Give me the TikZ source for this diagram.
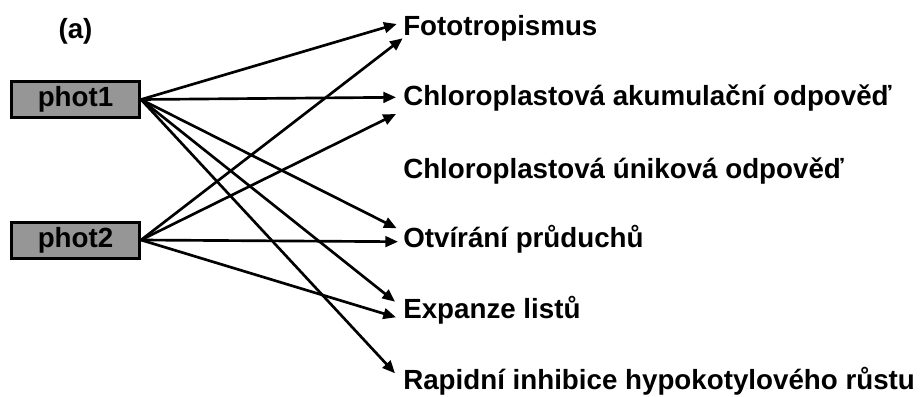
\documentclass[tikz,border=0pt]{standalone}
\usepackage{fontspec}
\setmainfont{Liberation Sans}
\usetikzlibrary{arrows.meta, positioning}
\definecolor{BoxGray}{HTML}{969696}

\tikzset{
  bigfont/.style={font=\fontsize{20.8pt}{24pt}\selectfont\bfseries},
  photbox/.style={bigfont, draw=black, line width=2.25pt, fill=BoxGray,
    minimum width=96pt, minimum height=27pt, inner sep=0pt},
  resp/.style={bigfont, anchor=base west, inner sep=0pt},
  link/.style={-{Triangle[length=9.5pt,width=8pt]}, line width=2pt},
}

\begin{document}
\begin{tikzpicture}[x=0.75pt, y=-0.75pt]
\useasboundingbox (0,0) rectangle (920,396);

% receptors
\node[bigfont, inner sep=0pt] (tag) at (75.5,31) {(a)};
\node[photbox] (phot1) at (75.5,99.5) {phot1};
\node[photbox] (phot2) at (75.5,240) {phot2};

% responses
\node[resp] (foto) at (403,35) {Fototropismus};
\node[resp] (akum) at (403,105) {Chloroplastová akumulační odpověď};
\node[resp] (unik) at (403,178) {Chloroplastová úniková odpověď};
\node[resp] (otv) at (403,247) {Otvírání průduchů};
\node[resp] (exp) at (403,318) {Expanze listů};
\node[resp] (rap) at (403,389) {Rapidní inhibice hypokotylového růstu};

% arrow ends
\coordinate (foto-1) at (396.7,24);
\coordinate (foto-2) at (402.7,38.3);
\coordinate (akum-1) at (396,97.3);
\coordinate (akum-2) at (396,114);
\coordinate (otv-1) at (396.7,228.3);
\coordinate (otv-2) at (398,241.7);
\coordinate (exp-1) at (395,301.7);
\coordinate (exp-2) at (396,317.3);
\coordinate (rap-1) at (395,373.3);

\draw[link] (phot1.east) -- (foto-1);
\draw[link] (phot1.east) -- (akum-1);
\draw[link] (phot1.east) -- (otv-1);
\draw[link] (phot1.east) -- (exp-1);
\draw[link] (phot1.east) -- (rap-1);

\draw[link] (phot2.east) -- (foto-2);
\draw[link] (phot2.east) -- (akum-2);
\draw[link] (phot2.east) -- (otv-2);
\draw[link] (phot2.east) -- (exp-2);
\end{tikzpicture}
\end{document}
